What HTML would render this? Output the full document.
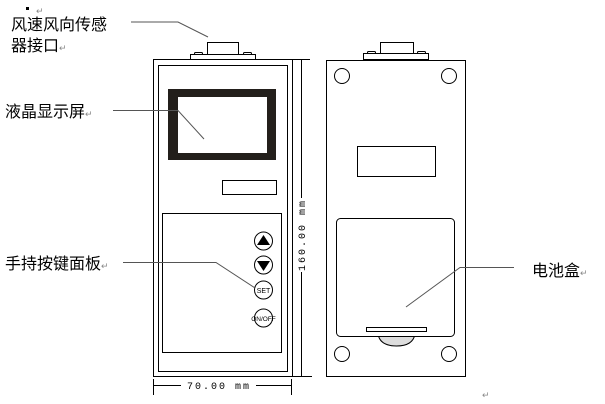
<!DOCTYPE html>
<html><head><meta charset="utf-8"><style>
html,body{margin:0;padding:0;background:#fff;width:605px;height:404px;overflow:hidden}
svg{display:block}
.t{font-family:"Liberation Sans","Noto Sans CJK SC",sans-serif;font-size:16px;fill:#000}
.m{font-family:"Liberation Mono",monospace;font-size:10px;fill:#000;letter-spacing:2px}
.r{font-family:"Liberation Sans",sans-serif;font-size:9px;fill:#888}
</style></head><body>
<svg width="605" height="404" viewBox="0 0 605 404" xmlns="http://www.w3.org/2000/svg">
<g fill="none" stroke="#000" stroke-width="1">
<rect x="207.5" y="42.5" width="31" height="12"/>
<rect x="190.5" y="54.5" width="65" height="5"/>
<rect x="194.5" y="52.5" width="8" height="2" rx="1"/>
<rect x="243.5" y="52.5" width="8" height="2" rx="1"/>
<line x1="153" y1="59.5" x2="310" y2="59.5"/>
<line x1="153.5" y1="59.5" x2="153.5" y2="376.5"/>
<line x1="153" y1="376.5" x2="293" y2="376.5"/>
<line x1="292.5" y1="59.5" x2="292.5" y2="376.5"/>
<rect x="158.5" y="65.5" width="129" height="306"/>
<rect x="162.5" y="213.5" width="119" height="139"/>
<rect x="222.5" y="180.5" width="54" height="14"/>
<line x1="301.5" y1="59.5" x2="301.5" y2="198"/>
<line x1="301.5" y1="272" x2="301.5" y2="376"/>
<line x1="292" y1="376.5" x2="312" y2="376.5"/>
<line x1="153.5" y1="379" x2="153.5" y2="395"/>
<line x1="291.5" y1="379" x2="291.5" y2="395"/>
<line x1="153" y1="385.5" x2="181" y2="385.5"/>
<line x1="256" y1="385.5" x2="292" y2="385.5"/>
<circle cx="263.5" cy="241" r="9"/>
<circle cx="263.5" cy="265" r="9"/>
<circle cx="263.5" cy="290" r="9"/>
<circle cx="263.5" cy="318" r="9"/>
<rect x="380.5" y="42.5" width="33" height="11"/>
<rect x="363.5" y="53.5" width="65" height="6"/>
<rect x="367.5" y="51.5" width="8" height="2" rx="1"/>
<rect x="417.5" y="51.5" width="8" height="2" rx="1"/>
<rect x="326.5" y="60.5" width="139" height="316"/>
<circle cx="342" cy="76" r="7.5"/>
<circle cx="449" cy="76" r="7.5"/>
<circle cx="342" cy="354" r="7.5"/>
<circle cx="449" cy="354" r="7.5"/>
<rect x="357.5" y="146.5" width="78" height="30"/>
<path d="M378 334 Q380 346 396.5 346 Q413 346 415 334" fill="#ddd"/>
<rect x="336.5" y="218.5" width="118" height="118" rx="4" fill="#fff"/>
<rect x="366.5" y="327.5" width="60" height="4"/>
</g>
<rect x="168" y="89" width="108" height="71" fill="#231f1b"/>
<rect x="178" y="97" width="89" height="56" fill="#fff"/>
<polygon points="263.5,235 257,245 270,245" fill="#000"/>
<polygon points="263.5,271 257,261 270,261" fill="#000"/>
<text x="263.5" y="293" font-family="Liberation Sans,sans-serif" font-size="7" text-anchor="middle">SET</text>
<text x="263.5" y="321" font-family="Liberation Sans,sans-serif" font-size="6.5" text-anchor="middle">ON/OFF</text>
<g fill="none" stroke="#555" stroke-width="1">
<polyline points="131,22 178,22 208,37"/>
<polyline points="113,110.5 178,110.5 204,139"/>
<polyline points="123,262.5 216,262.5 255,288"/>
<polyline points="514,267.5 460,267.5 406,307"/>
</g>
<rect x="26" y="7" width="3" height="3" fill="#000"/>
<text class="t" x="11" y="30">风速风向传感</text>
<text class="t" x="11" y="51">器接口<tspan class="r">↵</tspan></text>
<text class="t" x="5" y="117">液晶显示屏<tspan class="r">↵</tspan></text>
<text class="t" x="5" y="269">手持按键面板<tspan class="r">↵</tspan></text>
<text class="t" x="532" y="276">电池盒<tspan class="r">↵</tspan></text>
<text class="r" x="36" y="14">↵</text>
<text class="m" x="219" y="389" text-anchor="middle">70.00 mm</text>
<text class="m" transform="translate(305,235) rotate(-90)" text-anchor="middle">160.00 mm</text>
<text class="r" x="482" y="398">↵</text>
</svg>
</body></html>
